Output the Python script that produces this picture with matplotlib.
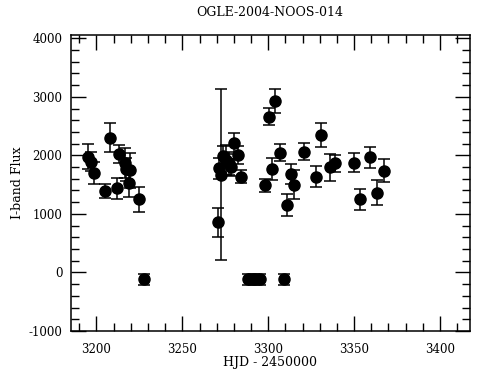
import matplotlib
matplotlib.use("Agg")
import matplotlib.pyplot as plt
from matplotlib.ticker import MultipleLocator

plt.rcParams["axes.unicode_minus"] = False

title = "OGLE-2004-NOOS-014"
xlabel = "HJD - 2450000"
ylabel = "I-band Flux"

hjd = [3194.9, 3196.9, 3198.8, 3205.1, 3208.0, 3211.8, 3213.0, 3216.7, 3217.3,
       3218.8, 3219.8, 3224.6, 3227.9,
       3270.5, 3271.5, 3272.5, 3273.4, 3275.4, 3277.3, 3278.3, 3280.2, 3282.2,
       3284.1, 3288.5, 3291.9, 3295.3, 3298.3, 3300.2, 3302.2, 3304.1, 3307.0,
       3308.9, 3311.0, 3313.0, 3314.9, 3320.9, 3327.7, 3330.8, 3335.9, 3339.0,
       3349.8, 3353.7, 3359.5, 3363.5, 3367.6]
flux = [1976, 1891, 1692, 1390, 2301, 1436, 2017, 1874, 1761,
        1521, 1749, 1248, -115,
        855, 1778, 1669, 1988, 1920, 1863, 1795, 2205, 2005,
        1634, -115, -115, -115, 1487, 2660, 1761, 2933, 2044,
        -115, 1150, 1685, 1497, 2062, 1634, 2347, 1795, 1863,
        1874, 1248, 1966, 1361, 1737]
err = [214, 160, 188, 120, 248, 178, 155, 260, 200,
       230, 300, 214, 94,
       246, 175, 1459, 170, 250, 200, 150, 176, 150,
       108, 94, 94, 94, 114, 142, 188, 205, 148,
       94, 185, 175, 248, 148, 177, 205, 228, 145,
       162, 185, 185, 217, 197]

fig = plt.figure(figsize=(4.9, 3.8), dpi=100)
ax = fig.add_axes([0.1443, 0.129, 0.8147, 0.779])

ax.errorbar(hjd, flux, yerr=err, fmt="o", color="black", ms=8,
            elinewidth=1.1, capsize=4.5, capthick=1.1)

ax.set_xlim(3185, 3417.4)
ax.set_ylim(-1000, 4057)

ax.xaxis.set_major_locator(MultipleLocator(50))
ax.xaxis.set_minor_locator(MultipleLocator(10))
ax.yaxis.set_major_locator(MultipleLocator(1000))
ax.yaxis.set_minor_locator(MultipleLocator(200))

font = "DejaVu Serif"
ax.tick_params(which="both", direction="in", top=True, right=True, width=1.0)
ax.tick_params(which="major", length=11)
ax.tick_params(which="minor", length=5.5)
ax.tick_params(axis="x", which="major", pad=9)
ax.tick_params(axis="y", which="major", pad=6)
for lab in ax.get_xticklabels() + ax.get_yticklabels():
    lab.set_fontfamily(font)
    lab.set_fontsize(8.5)
for s in ax.spines.values():
    s.set_linewidth(1.1)

fig.text(270 / 490, 1 - 12 / 380, title, fontfamily=font, fontsize=9,
         ha="center", va="center")
ax.set_xlabel(xlabel, fontfamily=font, fontsize=9)
ax.set_ylabel(ylabel, fontfamily=font, fontsize=9)
ax.xaxis.set_label_coords(0.5, (331 - 363) / 296)
ax.yaxis.set_label_coords((17 - 70.7) / 399.3, 0.5)
ax.xaxis.label.set_va("center")
ax.yaxis.label.set_va("center")

fig.savefig("out.png", dpi=100)
